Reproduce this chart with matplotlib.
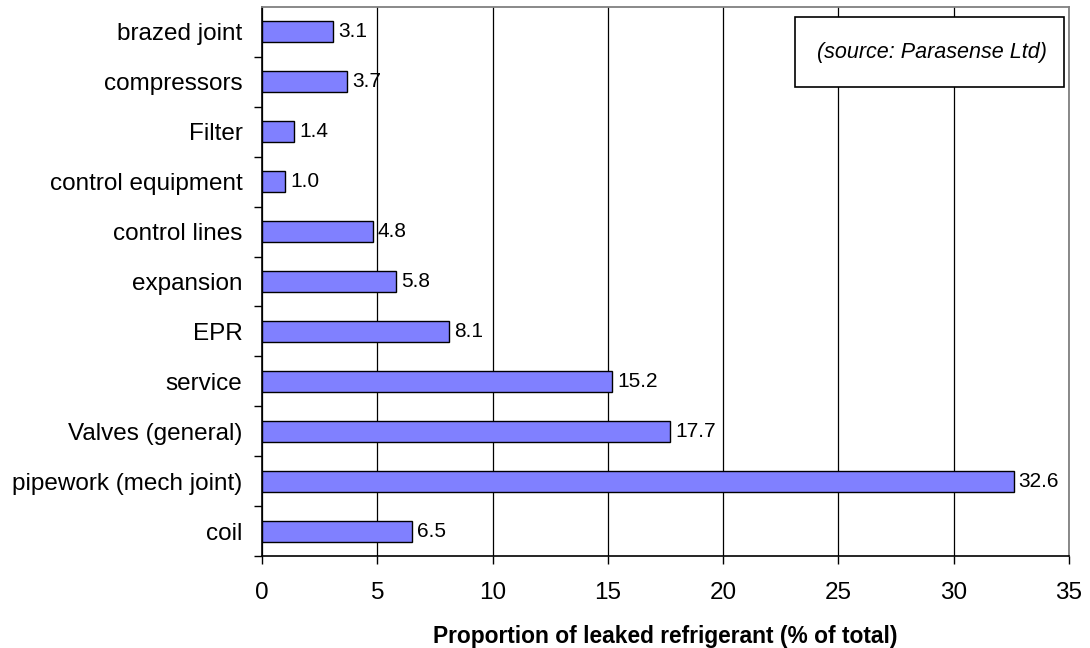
import matplotlib.pyplot as plt
from matplotlib.patches import Rectangle

plt.rcParams['font.family'] = ['Liberation Sans', 'DejaVu Sans']

# leak sources, bottom to top
sources = ['coil', 'pipework (mech joint)', 'Valves (general)', 'service', 'EPR',
           'expansion', 'control lines', 'control equipment', 'Filter',
           'compressors', 'brazed joint']
shares = [6.5, 32.6, 17.7, 15.2, 8.1, 5.8, 4.8, 1.0, 1.4, 3.7, 3.1]
xticks = [0, 5, 10, 15, 20, 25, 30, 35]

fig = plt.figure(figsize=(10.9, 6.48), dpi=100)
ax = fig.add_axes([262 / 1090, 1 - 556 / 648, (1069 - 262) / 1090, (556 - 7) / 648])

ypos = range(len(sources))
ax.barh(ypos, shares, height=0.42, color='#8080ff', edgecolor='black',
        linewidth=1.0, zorder=3)
for y, v in zip(ypos, shares):
    ax.text(v + 0.22, y, f'{v:.1f}', va='center', ha='left', fontsize=15, zorder=4)

ax.set_xlim(0, 35)
ax.set_ylim(-0.5, len(sources) - 0.5)
ax.set_xticks(xticks)
ax.set_xticklabels([str(t) for t in xticks], fontsize=17.5)
ax.tick_params(axis='x', direction='out', length=6, width=1, pad=13, colors='black')
ax.grid(axis='x', color='black', linewidth=0.9, zorder=0)

# category labels centred on bars, ticks on band boundaries
ax.set_yticks(list(ypos))
ax.set_yticklabels(sources, fontsize=17.5)
ax.tick_params(axis='y', length=0, pad=14)
ax.set_yticks([i + 0.5 for i in range(len(sources) - 1)] + [-0.5], minor=True)
ax.tick_params(axis='y', which='minor', direction='out', length=6, width=1)

for side in ('top', 'right'):
    ax.spines[side].set_color('#808080')
    ax.spines[side].set_linewidth(1.3)
ax.spines['left'].set_linewidth(1.2)
ax.spines['bottom'].set_linewidth(1.2)

ax.set_xlabel('Proportion of leaked refrigerant (% of total)', fontsize=16.4,
              fontweight='bold', labelpad=15)

# source note in a framed box, top right
ax.add_patch(Rectangle((0.6605, 0.8543), 0.9938 - 0.6605, 0.9818 - 0.8543,
                       transform=ax.transAxes, facecolor='white', edgecolor='black',
                       linewidth=1.2, zorder=5))
ax.text(0.9727, 0.918, '(source: Parasense Ltd)', transform=ax.transAxes,
        ha='right', va='center', fontsize=15.5, style='italic', zorder=6)

fig.savefig('out.png', dpi=100)
